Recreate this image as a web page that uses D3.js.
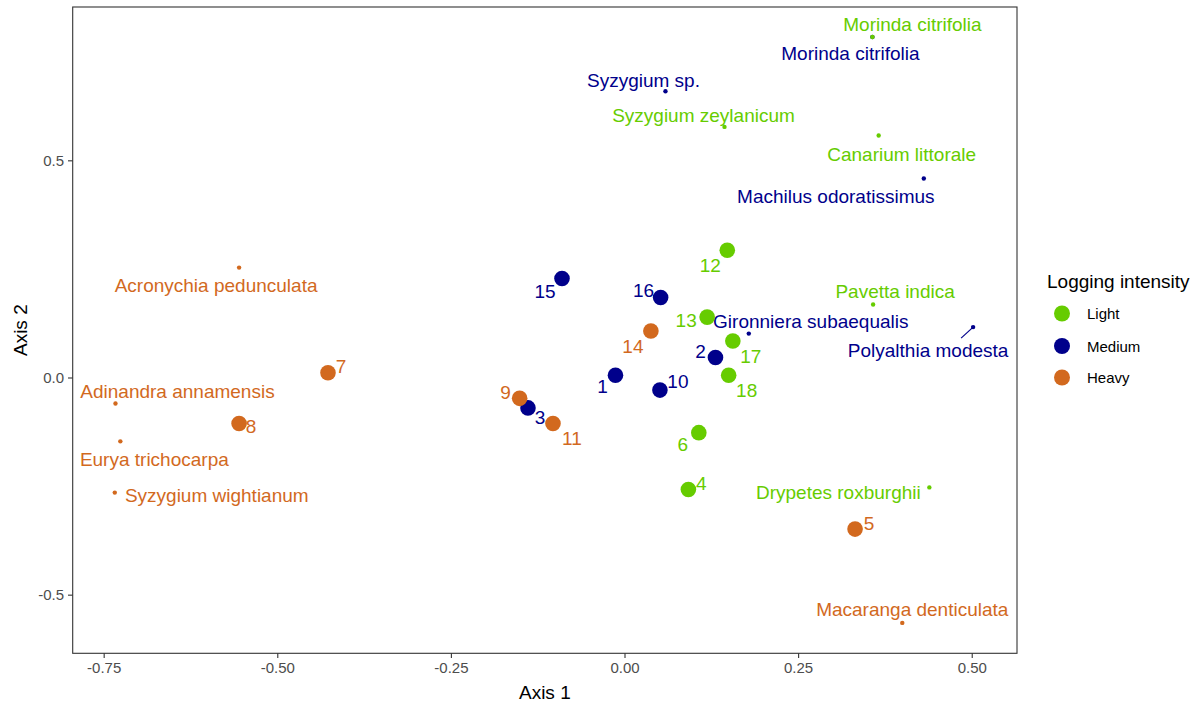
<!DOCTYPE html>
<html>
<head>
<meta charset="utf-8">
<script src="https://cdn.jsdelivr.net/npm/d3@7/dist/d3.min.js"></script>
<style>
  html, body { margin: 0; padding: 0; background: #fff; }
  svg { display: block; font-family: "Liberation Sans", Arial, sans-serif; }
</style>
</head>
<body>
<svg id="chart" width="1200" height="706"></svg>
<script>
// ---- Data ----
const siteIds    = ["1","2","3","4","5","6","7","8","9","10","11","12","13","14","15","16","17","18"];
const siteAxis1  = [-0.013, 0.131, -0.139, 0.092, 0.332, 0.107, -0.427, -0.555, -0.151, 0.051, -0.103, 0.148, 0.119, 0.038, -0.090, 0.052, 0.156, 0.150];
const siteAxis2  = [0.005, 0.046, -0.070, -0.258, -0.349, -0.127, 0.011, -0.106, -0.048, -0.029, -0.106, 0.293, 0.139, 0.107, 0.228, 0.184, 0.084, 0.005];
const siteLogging = ["Medium","Medium","Medium","Light","Heavy","Light","Heavy","Heavy","Heavy","Medium","Heavy","Light","Light","Heavy","Medium","Medium","Light","Light"];

const speciesNames = ["Morinda citrifolia","Morinda citrifolia","Syzygium zeylanicum","Canarium littorale","Pavetta indica","Drypetes roxburghii",
                      "Syzygium sp.","Machilus odoratissimus","Gironniera subaequalis","Polyalthia modesta",
                      "Acronychia pedunculata","Adinandra annamensis","Eurya trichocarpa","Syzygium wightianum","Macaranga denticulata"];
const speciesAxis1 = [0.357, 0.357, 0.144, 0.366, 0.358, 0.439, 0.059, 0.431, 0.179, 0.502, -0.555, -0.733, -0.726, -0.734, 0.400];
const speciesAxis2 = [0.784, 0.784, 0.577, 0.557, 0.168, -0.253, 0.659, 0.458, 0.101, 0.116, 0.253, -0.060, -0.147, -0.265, -0.565];
const speciesLogging = ["Medium","Light","Light","Light","Light","Light","Medium","Medium","Medium","Medium","Heavy","Heavy","Heavy","Heavy","Heavy"];

const loggingLevels = ["Light","Medium","Heavy"];
const xTicks = [-0.75, -0.5, -0.25, 0, 0.25, 0.5];
const yTicks = [-0.5, 0, 0.5];

// ---- Layout / style (label placement offsets in px, as produced by label repelling) ----
const siteLabelOffsets = [[-13,11],[-15,-6],[12,10],[13,-6],[14,-6],[-16,12],[13,-6],[12,3],[-14,-6],[18,-9],[19,15],[-17,15],[-21,3],[-18,15],[-17,13],[-17,-7],[18,15],[18,15]];
const speciesLabelOffsets = [[-22,17],[40,-12],[-21,-11],[23,19],[22,-13],[-91,5],[-22,-11],[-88,18],[62,-12],[-45,23],[-23,18],[62,-12],[34,18],[102,3],[10,-13]];
const speciesSegments = [null,null,null,null,null,null,null,null,null,[-12,11],null,null,null,null,null];

const colors = d3.scaleOrdinal().domain(loggingLevels).range(["#66CC00", "#00008B", "#D2691E"]);

const svg = d3.select("#chart");
const panel = { left: 72.7, right: 1017, top: 7, bottom: 653.3 };

const x = d3.scaleLinear().domain([-0.7946, 0.5652]).range([panel.left, panel.right]);
const y = d3.scaleLinear().domain([-0.635, 0.853]).range([panel.bottom, panel.top]);

// Panel background & border
svg.append("rect")
  .attr("x", panel.left).attr("y", panel.top)
  .attr("width", panel.right - panel.left).attr("height", panel.bottom - panel.top)
  .attr("fill", "#fff");

// Axes
const xAxis = d3.axisBottom(x).tickValues(xTicks).tickFormat(d3.format(".2f")).tickSize(4.7).tickPadding(4);
const yAxis = d3.axisLeft(y).tickValues(yTicks).tickFormat(d3.format(".1f")).tickSize(4.7).tickPadding(4);

const gx = svg.append("g").attr("transform", `translate(0,${panel.bottom})`).call(xAxis);
const gy = svg.append("g").attr("transform", `translate(${panel.left},0)`).call(yAxis);
[gx, gy].forEach(g => {
  g.select(".domain").remove();
  g.selectAll(".tick line").attr("stroke", "#333333").attr("stroke-width", 1.1);
  g.selectAll(".tick text").attr("fill", "#4D4D4D").style("font-size", "15px")
    .style("font-family", '"Liberation Sans", Arial, sans-serif');
});
gx.selectAll(".tick text").text(d => d3.format(".2f")(d).replace("−", "-"));
gy.selectAll(".tick text").text(d => d3.format(".1f")(d).replace("−", "-"));

// Axis titles
svg.append("text").attr("x", (panel.left + panel.right) / 2).attr("y", 699)
  .attr("text-anchor", "middle").style("font-size", "19px").attr("fill", "#000").text("Axis 1");
svg.append("text").attr("transform", `translate(27,${(panel.top + panel.bottom) / 2}) rotate(-90)`)
  .attr("text-anchor", "middle").style("font-size", "19px").attr("fill", "#000").text("Axis 2");

// Species
const species = speciesNames.map((n, i) => ({
  name: n, a1: speciesAxis1[i], a2: speciesAxis2[i], lg: speciesLogging[i],
  off: speciesLabelOffsets[i], seg: speciesSegments[i]
}));
const gs = svg.append("g");
species.forEach(d => {
  if (d.seg) {
    gs.append("line")
      .attr("x1", x(d.a1)).attr("y1", y(d.a2))
      .attr("x2", x(d.a1) + d.seg[0]).attr("y2", y(d.a2) + d.seg[1])
      .attr("stroke", colors(d.lg)).attr("stroke-width", 1.2);
  }
});
gs.selectAll("circle").data(species).join("circle")
  .attr("cx", d => x(d.a1)).attr("cy", d => y(d.a2)).attr("r", 2.2)
  .attr("fill", d => colors(d.lg));
gs.selectAll("text").data(species).join("text")
  .attr("x", d => x(d.a1) + d.off[0]).attr("y", d => y(d.a2) + d.off[1])
  .attr("text-anchor", "middle").attr("dominant-baseline", "central")
  .style("font-size", "19px").attr("fill", d => colors(d.lg)).text(d => d.name);

// Sites
const sites = siteIds.map((id, i) => ({ id, a1: siteAxis1[i], a2: siteAxis2[i], lg: siteLogging[i], off: siteLabelOffsets[i] }));
const gSites = svg.append("g");
gSites.selectAll("circle").data(sites).join("circle")
  .attr("cx", d => x(d.a1)).attr("cy", d => y(d.a2)).attr("r", 7.8)
  .attr("fill", d => colors(d.lg));
gSites.selectAll("text").data(sites).join("text")
  .attr("x", d => x(d.a1) + d.off[0]).attr("y", d => y(d.a2) + d.off[1])
  .attr("text-anchor", "middle").attr("dominant-baseline", "central")
  .style("font-size", "19px").attr("fill", d => colors(d.lg)).text(d => d.id);

// Panel border
svg.append("rect")
  .attr("x", panel.left).attr("y", panel.top)
  .attr("width", panel.right - panel.left).attr("height", panel.bottom - panel.top)
  .attr("fill", "none").attr("stroke", "#333333").attr("stroke-width", 1.1);

// Legend
const lg = svg.append("g");
lg.append("text").attr("x", 1047).attr("y", 288).style("font-size", "19px").attr("fill", "#000").text("Logging intensity");
const legendY = [313.5, 346, 377.5];
loggingLevels.forEach((lv, i) => {
  lg.append("circle").attr("cx", 1062).attr("cy", legendY[i]).attr("r", 8).attr("fill", colors(lv));
  lg.append("text").attr("x", 1087).attr("y", legendY[i]).attr("dominant-baseline", "central")
    .style("font-size", "15px").attr("fill", "#000").text(lv);
});
</script>
</body>
</html>
